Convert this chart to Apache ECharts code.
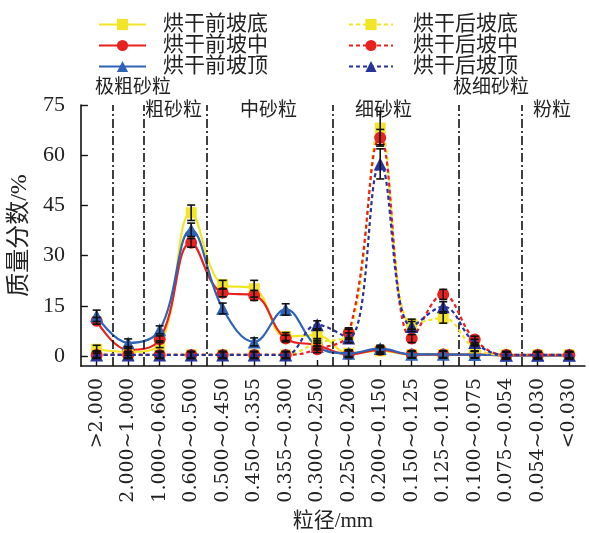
<!DOCTYPE html>
<html>
<head>
<meta charset="utf-8">
<script src="https://cdn.jsdelivr.net/npm/echarts@6/dist/echarts.min.js"></script>
<style>html,body{margin:0;padding:0;background:#fff}#c{width:590px;height:533px}</style>
</head>
<body>
<div id="c"></div>
<script>
// ---- data ----
const categories = ['>2.000','2.000~1.000','1.000~0.600','0.600~0.500','0.500~0.450','0.450~0.355','0.355~0.300','0.300~0.250','0.250~0.200','0.200~0.150','0.150~0.125','0.125~0.100','0.100~0.075','0.075~0.054','0.054~0.030','<0.030'];
const yTicks = [0, 15, 30, 45, 60, 75];
const seriesNames = ['烘干前坡底','烘干前坡中','烘干前坡顶','烘干后坡底','烘干后坡中','烘干后坡顶'];
const preBottom = [2.0, 1.2, 3.5, 42.8, 21.3, 20.1, 5.8, 6.2, 0.8, 1.5, 0.4, 0.5, 0.4, 0.2, 0.2, 0.2];
const preMiddle = [10.5, 1.8, 5.0, 33.8, 18.9, 18.1, 5.2, 3.2, 0.5, 1.8, 0.4, 0.4, 0.4, 0.2, 0.2, 0.2];
const preTop    = [12.0, 3.9, 7.8, 37.7, 14.2, 4.2, 13.9, 2.8, 0.8, 2.2, 0.5, 0.5, 0.4, 0.2, 0.2, 0.2];
const postBottom = [0.5, 0.3, 0.3, 0.3, 0.3, 0.3, 0.3, 4.0, 6.5, 68.1, 9.5, 11.3, 2.4, 0.3, 0.3, 0.3];
const postMiddle = [0.3, 0.3, 0.3, 0.3, 0.3, 0.3, 0.3, 2.0, 6.9, 65.2, 5.2, 18.4, 4.9, 0.3, 0.3, 0.3];
const postTop    = [0.3, 0.3, 0.3, 0.3, 0.3, 0.3, 0.3, 9.3, 5.4, 57.4, 8.8, 14.7, 4.0, 0.3, 0.3, 0.3];
const errPreBottom  = [1.2, 1.0, 1.0, 2.3, 1.3, 2.5, 1.2, 1.5, 1.0, 1.0, 1.0, 1.0, 1.0, 1.0, 1.0, 1.0];
const errPreMiddle  = [1.0, 1.0, 1.0, 1.3, 1.2, 1.5, 1.0, 1.0, 1.0, 1.0, 1.0, 1.0, 1.0, 1.0, 1.0, 1.0];
const errPreTop     = [1.7, 1.2, 1.2, 2.0, 1.6, 1.2, 1.7, 1.0, 1.0, 1.0, 1.0, 1.0, 1.0, 1.0, 1.0, 1.0];
const errPostBottom = [1.0, 1.0, 1.0, 1.0, 1.0, 1.0, 1.0, 1.2, 1.5, 5.0, 1.5, 1.5, 1.0, 1.0, 1.0, 1.0];
const errPostMiddle = [1.0, 1.0, 1.0, 1.0, 1.0, 1.0, 1.0, 1.0, 1.5, 2.5, 1.2, 1.5, 1.0, 1.0, 1.0, 1.0];
const errPostTop    = [1.0, 1.0, 1.0, 1.0, 1.0, 1.0, 1.0, 1.2, 1.5, 4.5, 1.5, 1.5, 1.0, 1.0, 1.0, 1.0];
const boundaries = [0.5, 1.5, 3.5, 7.5, 11.5, 13.5];
const classLabels = ['极粗砂粒','粗砂粒','中砂粒','细砂粒','极细砂粒','粉粒'];

// ---- styling ----
const YELLOW = '#f2e526', RED = '#e8211f', BLUE = '#2f63b6', NAVY = '#27339a';
const SERIF = "'Liberation Serif','Noto Sans CJK SC'";
const WIDE = "'DejaVu Serif','Noto Sans CJK SC'";
const allValues = [preBottom, preMiddle, preTop, postBottom, postMiddle, postTop];
const allErr = [errPreBottom, errPreMiddle, errPreTop, errPostBottom, errPostMiddle, errPostTop];
const colors = [YELLOW, RED, BLUE, YELLOW, RED, NAVY];
const symbols = ['rect', 'circle', 'triangle', 'rect', 'circle', 'triangle'];
const symbolSizes = [11, 12, 13, 11, 12, 13];
const idx = categories.map((_, i) => i);

const chart = echarts.init(document.getElementById('c'), null, {renderer: 'canvas'});

const lineSeries = allValues.map((vals, s) => ({
  name: seriesNames[s],
  type: 'line',
  smooth: 0.4,
  data: vals.map((v, i) => [i, v]),
  symbol: symbols[s],
  symbolSize: symbolSizes[s],
  showAllSymbol: true,
  color: colors[s],
  itemStyle: {color: colors[s]},
  lineStyle: {color: colors[s], width: 2.2, type: s < 3 ? 'solid' : [4, 3]},
  z: 2 + s
}));

const errData = [];
allValues.forEach((vals, s) => vals.forEach((v, i) => errData.push([i, v - allErr[s][i], v + allErr[s][i]])));

const errSeries = {
  type: 'custom',
  name: 'err',
  z: 10,
  silent: true,
  renderItem: function (params, api) {
    const x = api.value(0);
    const lo = api.coord([x, api.value(1)]);
    const hi = api.coord([x, api.value(2)]);
    const w = 4;
    const st = {stroke: '#111', lineWidth: 1.6};
    return {type: 'group', children: [
      {type: 'line', shape: {x1: lo[0], y1: lo[1], x2: hi[0], y2: hi[1]}, style: st},
      {type: 'line', shape: {x1: lo[0] - w, y1: lo[1], x2: lo[0] + w, y2: lo[1]}, style: st},
      {type: 'line', shape: {x1: hi[0] - w, y1: hi[1], x2: hi[0] + w, y2: hi[1]}, style: st}
    ]};
  },
  encode: {x: 0, y: [1, 2]},
  data: errData,
  clip: true
};

const bSeries = {
  type: 'line', name: 'bounds', data: [], silent: true, z: 1,
  markLine: {
    silent: true, symbol: 'none', label: {show: false},
    lineStyle: {color: '#111', width: 1.6, type: [9, 3, 2, 3]},
    data: boundaries.map(b => ({xAxis: b}))
  }
};

const labelFont = "19px 'Noto Sans CJK SC'";
const option = {
  animation: false,
  textStyle: {fontFamily: SERIF},
  grid: {left: 79, right: 5, top: 105, bottom: 163, containLabel: false},
  legend: [
    {data: seriesNames.slice(0, 3), orient: 'vertical', left: 93, top: 9, itemWidth: 47, itemHeight: 14, itemGap: 0,
     textStyle: {fontSize: 21, lineHeight: 21, fontFamily: SERIF, color: '#222', padding: [0, 0, 0, 12]}},
    {data: seriesNames.slice(3), orient: 'vertical', left: 343, top: 9, itemWidth: 44, itemHeight: 14, itemGap: 0,
     textStyle: {fontSize: 21, lineHeight: 21, fontFamily: SERIF, color: '#222', padding: [0, 0, 0, 15]}}
  ],
  xAxis: {
    type: 'value', min: -0.5, max: 15.5,
    name: '粒径/mm', nameLocation: 'middle', nameGap: 145,
    nameTextStyle: {fontSize: 21, fontFamily: SERIF, color: '#222'},
    axisLine: {onZero: false, lineStyle: {color: '#111', width: 1.6}},
    axisTick: {inside: true, length: 6, lineStyle: {color: '#111', width: 1.4}, customValues: idx},
    axisLabel: {rotate: 90, margin: 12, fontSize: 19, fontFamily: WIDE, color: '#222', customValues: idx,
      formatter: v => categories[Math.round(v)]},
    splitLine: {show: false}
  },
  yAxis: {
    type: 'value', min: -3, max: 75,
    name: '质量分数/%', nameLocation: 'middle', nameGap: 42, nameRotate: 90,
    nameTextStyle: {fontSize: 24, fontFamily: SERIF, color: '#222'},
    axisLine: {show: true, onZero: false, lineStyle: {color: '#111', width: 1.6}},
    axisTick: {show: true, inside: true, length: 7, lineStyle: {color: '#111', width: 1.4}, customValues: yTicks},
    axisLabel: {margin: 16, fontSize: 22, fontFamily: SERIF, color: '#222', customValues: yTicks},
    splitLine: {show: false}
  },
  graphic: [
    {type: 'text', left: 95, top: 76, style: {text: classLabels[0], font: labelFont, fill: '#222'}},
    {type: 'text', left: 145, top: 99, style: {text: classLabels[1], font: labelFont, fill: '#222'}},
    {type: 'text', left: 240, top: 99, style: {text: classLabels[2], font: labelFont, fill: '#222'}},
    {type: 'text', left: 355, top: 99, style: {text: classLabels[3], font: labelFont, fill: '#222'}},
    {type: 'text', left: 453, top: 76, style: {text: classLabels[4], font: labelFont, fill: '#222'}},
    {type: 'text', left: 533, top: 99, style: {text: classLabels[5], font: labelFont, fill: '#222'}}
  ],
  series: [bSeries].concat(lineSeries).concat([errSeries])
};
chart.setOption(option);
</script>
</body>
</html>
